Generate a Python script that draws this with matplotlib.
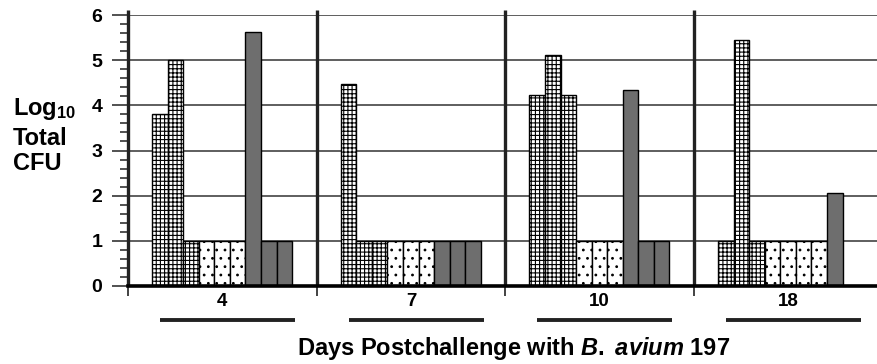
import matplotlib.pyplot as plt
import numpy as np

# Log10 total CFU, 9 bars per day (last group has only 8 bars drawn)
days = ["4", "7", "10", "18"]
values = [
    [3.8, 5.0, 1.0, 1.0, 1.0, 1.0, 5.62, 1.0, 1.0],
    [4.47, 1.0, 1.0, 1.0, 1.0, 1.0, 1.0, 1.0, 1.0],
    [4.22, 5.12, 4.22, 1.0, 1.0, 1.0, 4.33, 1.0, 1.0],
    [1.0, 5.44, 1.0, 1.0, 1.0, 1.0, 1.0, 2.05],
]
patterns = [
    ["grid"] * 3 + ["dots"] * 3 + ["dark"] * 3,
    ["grid"] * 3 + ["dots"] * 3 + ["dark"] * 3,
    ["grid"] * 3 + ["dots"] * 3 + ["dark"] * 3,
    ["grid"] * 3 + ["dots"] * 4 + ["dark"],
]

styles = {
    "grid": dict(facecolor="white", hatch="++++"),
    "dots": dict(facecolor="white", hatch=".."),
    "dark": dict(facecolor="#6e6e6e", hatch=None),
}

plt.rcParams["font.family"] = ["Liberation Sans", "DejaVu Sans"]
plt.rcParams["mathtext.fontset"] = "custom"
plt.rcParams["mathtext.rm"] = "Liberation Sans:bold"
plt.rcParams["mathtext.bf"] = "Liberation Sans:bold"
plt.rcParams["mathtext.it"] = "Liberation Sans:bold:italic"
plt.rcParams["hatch.linewidth"] = 0.8

fig = plt.figure(figsize=(8.78, 3.64), dpi=100)
ax = fig.add_axes([128 / 878, 78 / 364, 750 / 878, 271 / 364])

offset, width = 0.127, 0.0825
for g, (vals, pats) in enumerate(zip(values, patterns)):
    for i, (v, p) in enumerate(zip(vals, pats)):
        ax.bar(g + offset + i * width, v, width=width, align="edge",
               edgecolor="black", linewidth=1.0, zorder=3, **styles[p])

ax.set_xlim(0, 750 / 188.7)
ax.set_ylim(0, 6)

# horizontal grid lines at integers
for y in range(1, 7):
    ax.axhline(y, color="#333333", linewidth=1.1, zorder=1)

# group separators
edges = np.arange(len(days))
ax.vlines(edges, 0, 6.12, color="#222222", linewidth=2.4, zorder=4, clip_on=False)

for s in ["top", "right", "left"]:
    ax.spines[s].set_visible(False)
ax.spines["bottom"].set_linewidth(2.6)
ax.spines["bottom"].set_zorder(5)

ax.set_xticks(edges)
ax.set_xticklabels([])
ax.tick_params(axis="x", which="major", length=7, width=1.2, color="#222222")
ax.set_xticks(edges + 0.5, minor=True)
ax.set_xticklabels(days, minor=True, fontsize=13.5, fontweight="bold")
ax.tick_params(axis="x", which="minor", length=0, pad=5)

ax.set_yticks(range(0, 7))
ax.set_yticklabels([str(t) for t in range(0, 7)], fontsize=14, fontweight="bold")
ax.set_yticks(np.arange(0, 6.01, 0.2), minor=True)
ax.tick_params(axis="y", which="major", length=11.5, width=1.2, color="#333333", pad=7)
ax.tick_params(axis="y", which="minor", length=6, width=1.2, color="#333333")

# underlines below the day labels
ax.hlines([-0.75] * len(days), edges + 0.17, edges + 0.885, color="#222222",
          linewidth=2.8, clip_on=False)

fig.text(13 / 878, 1 - 115 / 364, "Log$_{10}$", fontsize=17, fontweight="bold",
         ha="left", va="baseline")
fig.text(13 / 878, 1 - 145 / 364, "Total", fontsize=17, fontweight="bold",
         ha="left", va="baseline")
fig.text(13 / 878, 1 - 170 / 364, "CFU", fontsize=17, fontweight="bold",
         ha="left", va="baseline")

fig.text(514 / 878, 1 - 355 / 364, "Days Postchallenge with $\\it{B.}$ $\\it{avium}$ 197",
         fontsize=17, fontweight="bold", ha="center", va="baseline")

fig.savefig("out.png", dpi=100)
